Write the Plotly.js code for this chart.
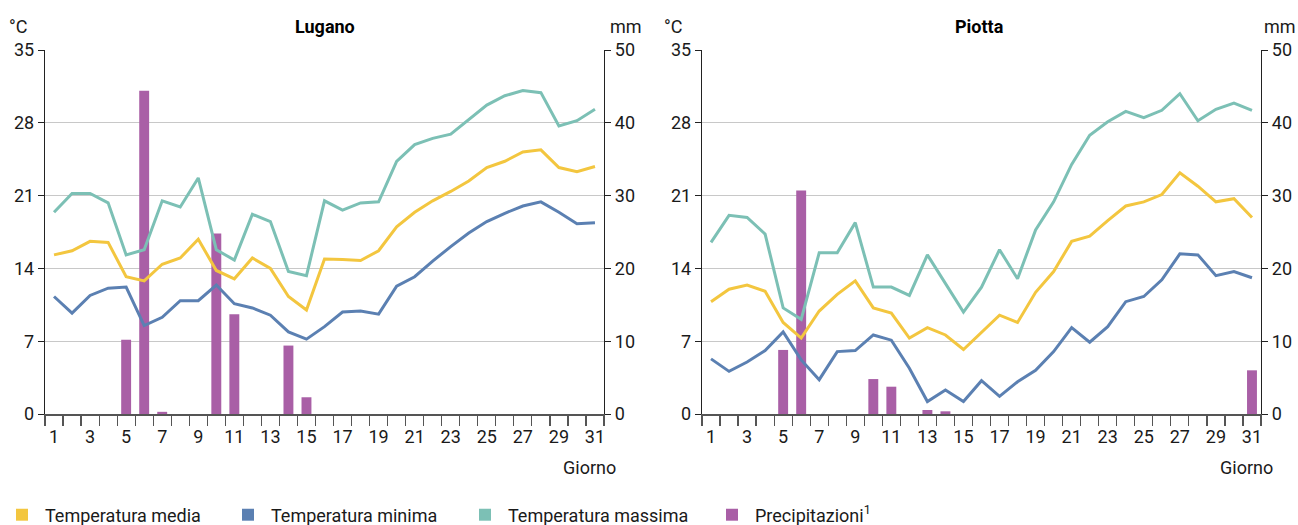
<!DOCTYPE html>
<html>
<head>
<meta charset="utf-8">
<script src="https://cdn.plot.ly/plotly-3.0.1.min.js"></script>
<style>html,body{margin:0;padding:0;background:#fff;}#chart{width:1298px;height:525px;}</style>
</head>
<body>
<div id="chart"></div>
<script>
const days = Array.from({length: 31}, (_, i) => String(i + 1));
const dayLabels = days.map(d => (Number(d) % 2 === 1 ? d : ''));

const luganoMean = [15.3,15.7,16.6,16.5,13.2,12.8,14.4,15.0,16.8,13.8,13.0,15.0,14.0,11.3,10.0,14.9,14.85,14.75,15.7,18.0,19.4,20.5,21.4,22.4,23.7,24.3,25.2,25.4,23.7,23.3,23.8];
const luganoMin  = [11.3,9.7,11.4,12.1,12.2,8.5,9.3,10.9,10.9,12.4,10.6,10.2,9.5,7.9,7.2,8.4,9.8,9.9,9.6,12.3,13.2,14.7,16.1,17.4,18.5,19.3,20.0,20.4,19.4,18.3,18.4];
const luganoMax  = [19.4,21.2,21.2,20.3,15.3,15.8,20.5,19.9,22.7,15.8,14.8,19.2,18.5,13.7,13.3,20.5,19.6,20.3,20.4,24.3,25.9,26.5,26.9,28.3,29.7,30.6,31.1,30.9,27.7,28.2,29.3];
const luganoPrec = [0,0,0,0,10.2,44.4,0.3,0,0,24.8,13.7,0,0,9.4,2.3,0,0,0,0,0,0,0,0,0,0,0,0,0,0,0,0];

const piottaMean = [10.8,12.0,12.4,11.8,8.8,7.3,9.9,11.5,12.8,10.2,9.7,7.3,8.3,7.6,6.2,7.9,9.5,8.8,11.7,13.7,16.6,17.1,18.6,20.0,20.4,21.1,23.2,21.9,20.4,20.7,18.9];
const piottaMin  = [5.3,4.1,5.0,6.1,7.9,5.2,3.3,6.0,6.1,7.6,7.1,4.4,1.2,2.3,1.2,3.2,1.7,3.1,4.2,6.0,8.3,6.9,8.4,10.8,11.3,12.9,15.4,15.3,13.3,13.7,13.1];
const piottaMax  = [16.5,19.1,18.9,17.3,10.2,9.1,15.5,15.5,18.4,12.2,12.2,11.4,15.3,12.5,9.8,12.2,15.8,13.0,17.7,20.4,24.0,26.8,28.1,29.1,28.5,29.2,30.8,28.2,29.3,29.9,29.2];
const piottaPrec = [0,0,0,0,8.8,30.7,0,0,0,4.8,3.75,0,0.55,0.37,0,0,0,0,0,0,0,0,0,0,0,0,0,0,0,0,6.0];

const tempTicks = [0,7,14,21,28,35];
const precTicks = [0,10,20,30,40,50];
const seriesNames = ['Temperatura media','Temperatura minima','Temperatura massima','Precipitazioni<sup>1</sup>'];
const colors = {mean:'#f3c63f', min:'#5b80b2', max:'#7cc0b5', prec:'#a95fa6'};

const FONT = 'Roboto, "Liberation Sans", sans-serif';
const W = 1298, H = 525;
const px = v => v / W, py = v => 1 - v / H;

function lineTrace(y, color, xa, ya){
  return {type:'scatter', mode:'lines', x:days, y:y, xaxis:xa, yaxis:ya,
    line:{color:color, width:3}, showlegend:false, hoverinfo:'skip'};
}
function barTrace(y, xa, ya){
  return {type:'bar', x:days, y:y, xaxis:xa, yaxis:ya, width:0.55,
    marker:{color:colors.prec, line:{width:0}}, showlegend:false, hoverinfo:'skip'};
}
function legendTrace(name, color, lg){
  return {type:'bar', x:[null], y:[null], name:name, marker:{color:color}, xaxis:'x', yaxis:'y', showlegend:true, legend:lg};
}

const data = [
  barTrace(luganoPrec,'x','y'),
  lineTrace(luganoMax, colors.max,'x','y2'),
  lineTrace(luganoMean, colors.mean,'x','y2'),
  lineTrace(luganoMin, colors.min,'x','y2'),
  barTrace(piottaPrec,'x2','y3'),
  lineTrace(piottaMax, colors.max,'x2','y4'),
  lineTrace(piottaMean, colors.mean,'x2','y4'),
  lineTrace(piottaMin, colors.min,'x2','y4'),
  legendTrace(seriesNames[0], colors.mean, 'legend'),
  legendTrace(seriesNames[1], colors.min, 'legend2'),
  legendTrace(seriesNames[2], colors.max, 'legend3'),
  legendTrace(seriesNames[3], colors.prec, 'legend4')
];

const yDom = [1 - 414/H, 1 - 50/H];
const xDom1 = [45/W, 604/W];
const xDom2 = [702/W, 1261/W];
const tickFont = {family:FONT, size:18, color:'#1a1a1a'};

function xAxis(dom, anchor){
  return {domain:dom, anchor:anchor, type:'category', tickmode:'array', tickvals:days, ticktext:dayLabels,
    tickson:'boundaries', ticks:'outside', ticklen:10, tickcolor:'#555', tickwidth:1.2, tickangle:0,
    ticklabelstandoff:6,
    showline:true, linecolor:'#555', linewidth:1.5, showgrid:false, zeroline:false,
    tickfont:tickFont, range:[-0.5, 30.5], fixedrange:true, automargin:false};
}
function precAxis(anchor){
  return {domain:yDom, anchor:anchor, side:'right', range:[0,50], tickvals:precTicks,
    ticks:'outside', ticklen:6, tickcolor:'#222', showline:true, linecolor:'#222', linewidth:1.2,
    showgrid:false, zeroline:false, tickfont:tickFont, fixedrange:true, automargin:false};
}
function tempAxis(overlay, anchor){
  return {domain:yDom, anchor:anchor, overlaying:overlay, side:'left', range:[0,35], tickvals:tempTicks,
    ticks:'outside', ticklen:6, tickcolor:'#222', showline:true, linecolor:'#222', linewidth:1.2,
    showgrid:true, gridcolor:'#c8c8c8', gridwidth:1.3, zeroline:false, tickfont:tickFont, fixedrange:true, automargin:false};
}

const annFont = {family:FONT, size:18, color:'#1a1a1a'};
function ann(text, x, y, font){
  return {text:text, x:px(x), y:py(y), xref:'paper', yref:'paper', xanchor:'center', yanchor:'middle', showarrow:false, font:font||annFont};
}
const titleFont = {family:FONT, size:18, color:'#000'};
const annotations = [
  ann('<b>Lugano</b>', 325, 26, titleFont),
  ann('<b>Piotta</b>', 979, 26, titleFont),
  ann('°C', 18, 26), ann('mm', 626, 26),
  ann('°C', 673, 26), ann('mm', 1280, 26),
  ann('Giorno', 589, 467), ann('Giorno', 1246, 467)
];

function legendBox(xPix){
  return {orientation:'h', x:px(xPix), xanchor:'left', y:py(515), yanchor:'middle', itemwidth:36,
    font:{family:FONT,size:18,color:'#1a1a1a'}, itemclick:false, itemdoubleclick:false, bgcolor:'rgba(0,0,0,0)'};
}

const layout = {
  width:W, height:H, margin:{l:0,r:0,t:0,b:0,pad:0,autoexpand:false}, paper_bgcolor:'#fff', plot_bgcolor:'rgba(0,0,0,0)',
  font:{family:FONT, size:18, color:'#1a1a1a'},
  barmode:'overlay',
  xaxis: xAxis(xDom1,'y'),
  yaxis: precAxis('x'),
  yaxis2: tempAxis('y','x'),
  xaxis2: xAxis(xDom2,'y3'),
  yaxis3: precAxis('x2'),
  yaxis4: tempAxis('y3','x2'),
  showlegend:true,
  legend: legendBox(-1),
  legend2: legendBox(225),
  legend3: legendBox(462),
  legend4: legendBox(709),
  annotations:annotations
};

Plotly.newPlot('chart', data, layout, {displayModeBar:false, staticPlot:true});
</script>
</body>
</html>
